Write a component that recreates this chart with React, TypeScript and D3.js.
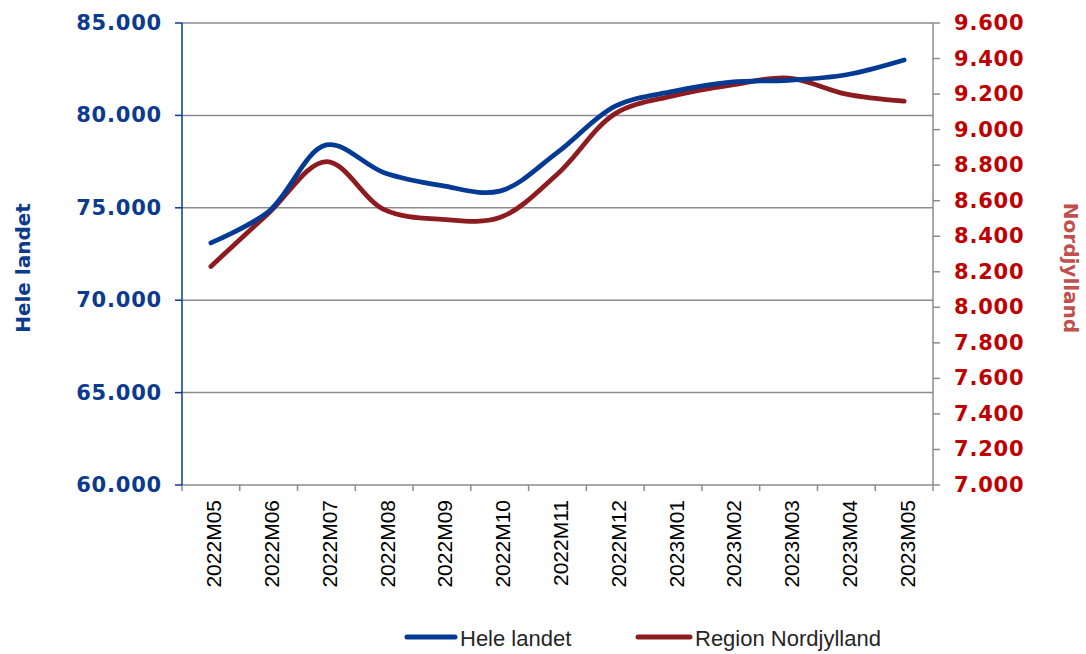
import React from "react";
import * as d3 from "d3";

const months = [
  "2022M05", "2022M06", "2022M07", "2022M08", "2022M09", "2022M10", "2022M11",
  "2022M12", "2023M01", "2023M02", "2023M03", "2023M04", "2023M05",
];
const heleLandet = [73100, 74800, 78400, 76900, 76200, 75900, 78000, 80500, 81300, 81800, 81900, 82200, 83000];
const nordjylland = [8230, 8530, 8820, 8550, 8495, 8505, 8750, 9090, 9190, 9250, 9290, 9200, 9160];
const leftTicks = [60000, 65000, 70000, 75000, 80000, 85000];
const rightTicks = [7000, 7200, 7400, 7600, 7800, 8000, 8200, 8400, 8600, 8800, 9000, 9200, 9400, 9600];

const W = 1086;
const H = 654;
const plot = { left: 182, right: 933, top: 23, bottom: 485 };
const NAVY = "#0b3a8e";
const LINE_BLUE = "#033a94";
const LINE_RED = "#8c1c20";
const TICK_RED = "#c00000";
const GRID = "#8c8c8c";

const fmt = (v: number) => d3.format(",")(v).replace(/,/g, ".");

export default function App() {
  const x = d3.scaleBand().domain(months).range([plot.left, plot.right]);
  const yL = d3.scaleLinear().domain([60000, 85000]).range([plot.bottom, plot.top]);
  const yR = d3.scaleLinear().domain([7000, 9600]).range([plot.bottom, plot.top]);
  const cx = (m: string) => (x(m) as number) + x.bandwidth() / 2;

  const lineL = d3
    .line<number>()
    .x((_, i) => cx(months[i]))
    .y((d) => yL(d))
    .curve(d3.curveCatmullRom.alpha(0.5));
  const lineR = d3
    .line<number>()
    .x((_, i) => cx(months[i]))
    .y((d) => yR(d))
    .curve(d3.curveCatmullRom.alpha(0.5));

  const boldFont = "'DejaVu Sans', Verdana, sans-serif";
  const plainFont = "'Liberation Sans', Arial, sans-serif";

  return (
    <svg width={W} height={H} style={{ position: "absolute", left: 0, top: 0, background: "#fff" }}>
      {/* gridlines */}
      {leftTicks.slice(1).map((t) => (
        <line key={"g" + t} x1={plot.left} x2={plot.right} y1={yL(t)} y2={yL(t)} stroke={GRID} strokeWidth={1.5} />
      ))}

      {/* bottom axis */}
      <line x1={plot.left} x2={plot.right} y1={plot.bottom} y2={plot.bottom} stroke={GRID} strokeWidth={1.5} />
      {d3.range(months.length + 1).map((i) => {
        const xx = plot.left + i * x.bandwidth();
        return <line key={"bt" + i} x1={xx} x2={xx} y1={plot.bottom} y2={plot.bottom + 6} stroke={GRID} strokeWidth={1.5} />;
      })}
      {months.map((m) => (
        <text
          key={m}
          transform={`translate(${cx(m) + 3},${plot.bottom + 15}) rotate(-90)`}
          textAnchor="end"
          dominantBaseline="central"
          fontFamily={plainFont}
          fontSize={21}
          fill="#000"
        >
          {m}
        </text>
      ))}

      {/* right axis */}
      <line x1={plot.right} x2={plot.right} y1={plot.top} y2={plot.bottom} stroke={GRID} strokeWidth={1.5} />
      {rightTicks.map((t) => (
        <g key={"r" + t}>
          <line x1={plot.right} x2={plot.right + 7} y1={yR(t)} y2={yR(t)} stroke={GRID} strokeWidth={1.5} />
          <text
            x={954}
            y={yR(t)}
            dominantBaseline="central"
            fontFamily={boldFont}
            fontWeight="bold"
            fontSize={21}
            letterSpacing={0.8}
            fill={TICK_RED}
          >
            {fmt(t)}
          </text>
        </g>
      ))}

      {/* left axis */}
      <line x1={plot.left} x2={plot.left} y1={plot.top} y2={plot.bottom} stroke={NAVY} strokeWidth={1.5} />
      {leftTicks.map((t) => (
        <g key={"l" + t}>
          <line x1={plot.left - 7} x2={plot.left} y1={yL(t)} y2={yL(t)} stroke={NAVY} strokeWidth={1.5} />
          <text
            x={162}
            y={yL(t)}
            textAnchor="end"
            dominantBaseline="central"
            fontFamily={boldFont}
            fontWeight="bold"
            fontSize={21}
            letterSpacing={0.8}
            fill={NAVY}
          >
            {fmt(t)}
          </text>
        </g>
      ))}

      {/* axis titles */}
      <text
        transform={`translate(23,${(plot.top + plot.bottom) / 2 + 14}) rotate(-90)`}
        textAnchor="middle"
        dominantBaseline="central"
        fontFamily={boldFont}
        fontWeight="bold"
        fontSize={20}
        fill={NAVY}
      >
        Hele landet
      </text>
      <text
        transform={`translate(1071,${(plot.top + plot.bottom) / 2 + 14}) rotate(90)`}
        textAnchor="middle"
        dominantBaseline="central"
        fontFamily={boldFont}
        fontWeight="bold"
        fontSize={20}
        fill="#c0504d"
      >
        Nordjylland
      </text>

      {/* series */}
      <path d={lineR(nordjylland) as string} fill="none" stroke={LINE_RED} strokeWidth={4.8} strokeLinecap="round" />
      <path d={lineL(heleLandet) as string} fill="none" stroke={LINE_BLUE} strokeWidth={4.8} strokeLinecap="round" />

      {/* legend */}
      <line x1={407} x2={455} y1={637} y2={637} stroke={LINE_BLUE} strokeWidth={5} strokeLinecap="round" />
      <text x={460} y={638} dominantBaseline="central" fontFamily={plainFont} fontSize={22} fill="#262626">
        Hele landet
      </text>
      <line x1={638} x2={690} y1={637} y2={637} stroke={LINE_RED} strokeWidth={5} strokeLinecap="round" />
      <text x={695} y={638} dominantBaseline="central" fontFamily={plainFont} fontSize={22} fill="#262626">
        Region Nordjylland
      </text>
    </svg>
  );
}
